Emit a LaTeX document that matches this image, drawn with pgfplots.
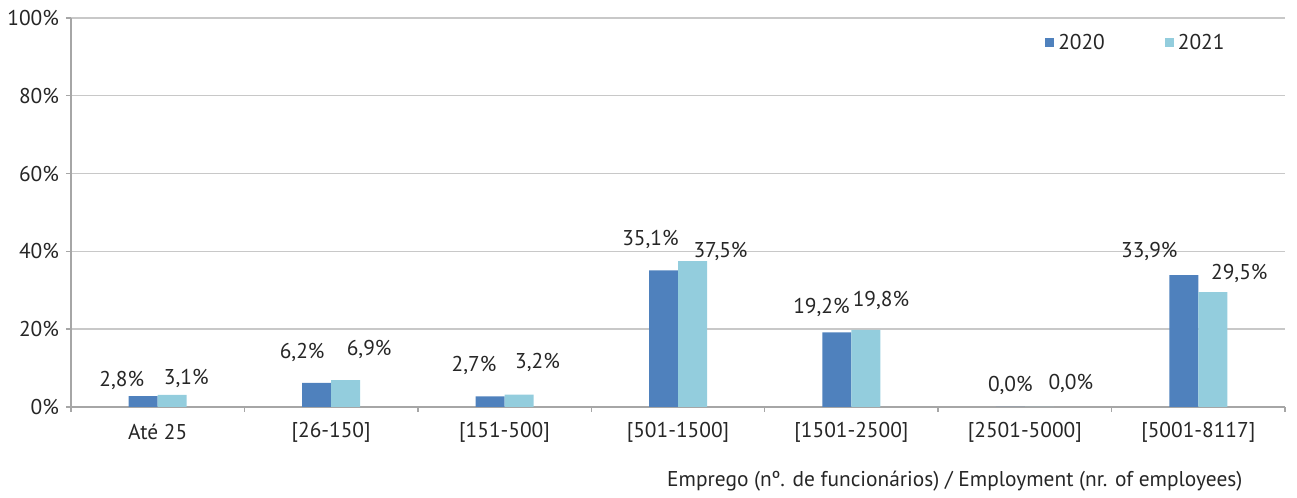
\documentclass[border=0pt]{standalone}
\usepackage{pgfplots}
\pgfplotsset{compat=1.18}
\usepackage{pgfplotstable}
\usepackage{fontspec}
\setmainfont{PT Sans}
\definecolor{c20}{HTML}{4F81BD}
\definecolor{c21}{HTML}{93CDDD}
\definecolor{gridc}{HTML}{C8C8C8}
\definecolor{axc}{HTML}{A6A6A6}
\definecolor{txt}{HTML}{262626}

\pgfplotstableread{
x y dx dy
0 2.8 -10.75 8
1 6.2 -7.25 15
2 2.7 -8 15.5
3 35.1 -6.5 15.5
4 19.2 -7.75 12.5
5 0.0 0 11
6 33.9 -17.25 12
}\tA
\pgfplotstableread{
x y dx dy
0 3.1 7 8
1 6.9 11.75 15.5
2 3.2 9.25 16
3 37.5 14 5
4 19.8 7.5 15
5 0.0 15.75 12
6 29.5 13.25 9.5
}\tB

\newcommand{\fs}{\fontsize{10.7}{12.8}\selectfont}

\begin{document}
\begin{tikzpicture}
\path (0,0) rectangle (648.5pt,247.5pt);
\begin{axis}[
  at={(35.5pt,44pt)}, anchor=south west,
  width=607pt, height=194.5pt, scale only axis,
  ybar=0pt, bar width=14.5pt,
  xmin=-0.5, xmax=6.5, ymin=0, ymax=100,
  axis lines*=left,
  axis line style={axc, line width=0.7pt},
  every tick/.style={axc, line width=0.7pt},
  tick align=outside,
  major tick length=2.5pt, minor tick length=2.5pt,
  xtick={0,...,6},
  xticklabels={Até 25,{[26-150]},{[151-500]},{[501-1500]},{[1501-2500]},{[2501-5000]},{[5001-8117]}},
  major x tick style={draw=none},
  minor xtick={-0.5,0.5,...,6.5},
  ytick={0,20,...,100},
  yticklabel={\pgfmathprintnumber{\tick}\%},
  /pgf/number format/assume math mode=true,
  ymajorgrids, grid style={gridc, line width=0.7pt},
  tick label style={font=\fs, text=txt},
  xticklabel style={anchor=center, yshift=-10pt},
  yticklabel style={anchor=east},
  xlabel={Emprego (nº. de funcionários) / Employment (nr. of employees)},
  xlabel style={at={(axis description cs:0.728,0)}, anchor=center, yshift=-37pt, font=\fs, text=txt},
  nodes near coords={\pgfmathprintnumber[fixed,fixed zerofill,precision=1,use comma]{\pgfplotspointmeta}\%},
  visualization depends on={\thisrow{dx} \as \dx},
  visualization depends on={\thisrow{dy} \as \dy},
  every node near coord/.append style={anchor=center, xshift=\dx pt, yshift=\dy pt, font=\fs, text=txt},
  legend style={at={(axis description cs:0.878,0.936)}, anchor=center, draw=none, fill=none,
    font=\fs, text=txt, /tikz/every even column/.append style={column sep=28pt}},
  legend columns=2,
  legend image code/.code={\fill[#1] (0pt,-2.25pt) rectangle (4.5pt,2.25pt);},
]
\addplot[fill=c20, draw=none] table[x=x,y=y] {\tA};
\addplot[fill=c21, draw=none] table[x=x,y=y] {\tB};
\legend{2020,2021}
\end{axis}
\end{tikzpicture}
\end{document}
